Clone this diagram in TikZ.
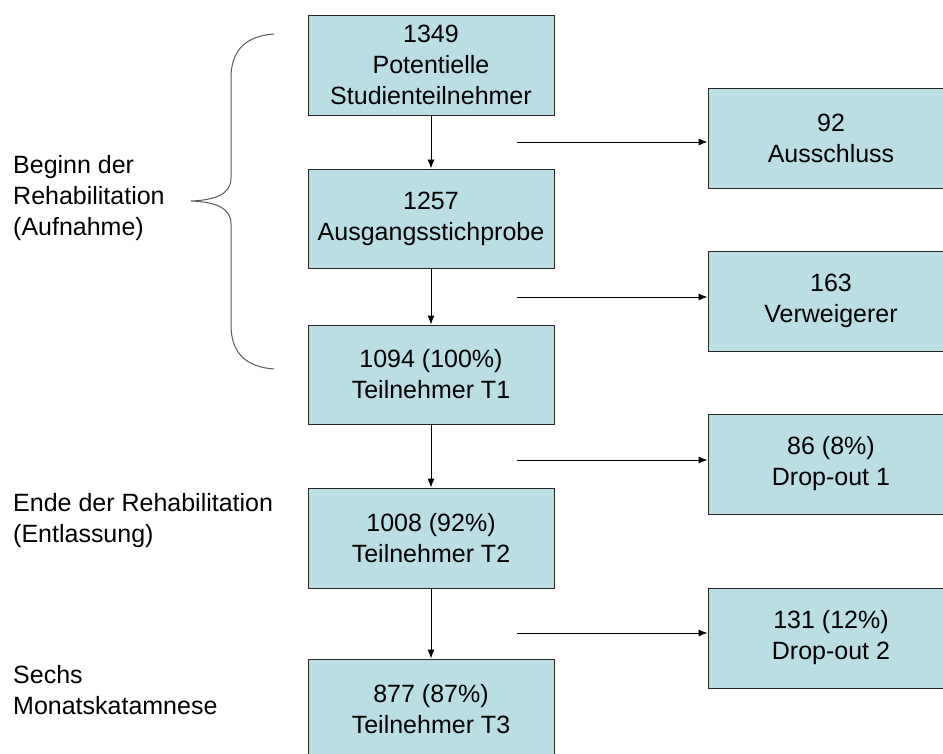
\documentclass[tikz,border=0pt]{standalone}
\usepackage{fontspec}
\setmainfont{Liberation Sans}
\usetikzlibrary{arrows.meta}
\definecolor{boxfill}{RGB}{186,222,227}
\definecolor{bracegray}{RGB}{90,90,90}
\tikzset{
  flowbox/.style={draw=black!85, line width=0.9pt, fill=boxfill, minimum width=246pt, minimum height=100pt, align=center, inner sep=0pt, font=\fontsize{25}{31}\selectfont},
  sidelabel/.style={anchor=west, align=left, inner sep=0pt, font=\fontsize{25}{31}\selectfont},
  arr/.style={line width=0.9pt, -{Latex[length=9pt,width=7pt]}}
}
\begin{document}
\begin{tikzpicture}[x=1pt,y=-1pt]
\useasboundingbox[fill=white] (0,0) rectangle (943,754);
% left column
\node[flowbox] (b1) at (431,65) {1349\\Potentielle\\Studienteilnehmer};
\node[flowbox, minimum height=99pt] (b2) at (431,218.5) {1257\\Ausgangsstichprobe};
\node[flowbox, minimum height=99pt] (b3) at (431,374.5) {1094 (100\%)\\Teilnehmer T1};
\node[flowbox] (b4) at (431,538) {1008 (92\%)\\Teilnehmer T2};
\node[flowbox] (b5) at (431,709) {877 (87\%)\\Teilnehmer T3};
% right column
\node[flowbox] (r1) at (831,138) {92\\Ausschluss};
\node[flowbox] (r2) at (831,301) {163\\Verweigerer};
\node[flowbox] (r3) at (831,464) {86 (8\%)\\Drop-out 1};
\node[flowbox] (r4) at (831,638) {131 (12\%)\\Drop-out 2};
% vertical arrows
\draw[arr] (b1) -- (b2);
\draw[arr] (b2) -- (b3);
\draw[arr] (b3) -- (b4);
\draw[arr] (b4) -- (b5);
% horizontal arrows
\coordinate (s1) at (517,142);
\coordinate (s2) at (517,297);
\coordinate (s3) at (517,460);
\coordinate (s4) at (517,633);
\draw[arr] (s1) -- (s1 -| r1.west);
\draw[arr] (s2) -- (s2 -| r2.west);
\draw[arr] (s3) -- (s3 -| r3.west);
\draw[arr] (s4) -- (s4 -| r4.west);
% brace
\draw[bracegray, line width=1pt]
  (274,34) .. controls (246,36) and (231,50) .. (231,78)
  -- (231,178) .. controls (231,194) and (216,200) .. (191,201)
  .. controls (216,202) and (231,208) .. (231,224)
  -- (231,325) .. controls (231,353) and (246,367) .. (274,369);
% side labels
\node[sidelabel] (l1) at (13,198) {Beginn der\\Rehabilitation\\(Aufnahme)};
\node[sidelabel] (l2) at (13,521) {Ende der Rehabilitation\\(Entlassung)};
\node[sidelabel] (l3) at (13,690) {Sechs\\Monatskatamnese};
\end{tikzpicture}
\end{document}
